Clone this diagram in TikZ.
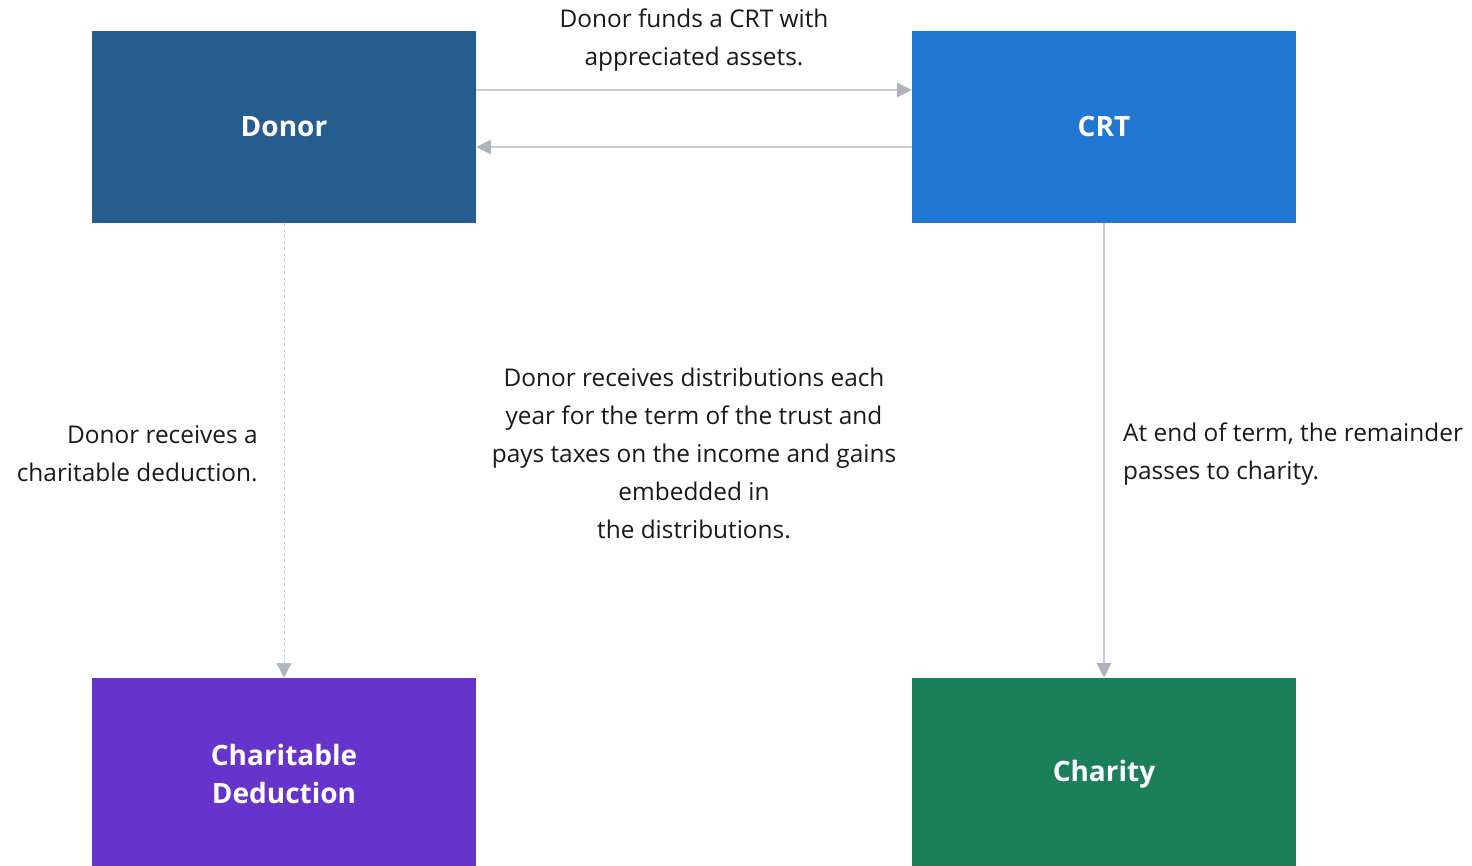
\documentclass[tikz,border=0pt]{standalone}
\usepackage{fontspec}
\setmainfont{Open Sans}
\usepackage{xcolor}
\usepackage{tikz}
\usetikzlibrary{arrows.meta}
\usetikzlibrary{positioning}
\usetikzlibrary{calc}
\definecolor{donorblue}{RGB}{38,93,143}
\definecolor{crtblue}{RGB}{33,118,210}
\definecolor{dedpurple}{RGB}{102,51,204}
\definecolor{charitygreen}{RGB}{26,127,90}
\definecolor{linegray}{RGB}{200,204,210}
\definecolor{headgray}{RGB}{174,180,190}
\tikzstyle{block} = [rectangle, fill=donorblue, text=white, align=center,
    font=\bfseries\fontsize{21}{28.5}\selectfont, inner sep=0pt,
    minimum width=288pt, minimum height=144pt]
\tikzstyle{line} = [draw=linegray, line width=0.8pt,
    -{Triangle[length=11pt,width=11pt,color=headgray]}]
\tikzstyle{note} = [font=\fontsize{18.3}{28.5}\selectfont, text=black!90, inner sep=0pt, yshift=-2.5pt]

\begin{document}
\begin{tikzpicture}[x=0.75pt,y=-0.75pt]

\useasboundingbox (0,0) rectangle (1472,866);
\clip (0,0) rectangle (1472,866);

% Define the four blocks
\node [block] (donor) at (284,127) {Donor};
\node [block, right of=donor, node distance=615pt, fill=crtblue] (crt) {CRT};
\node [block, below of=donor, node distance=485.25pt, fill=dedpurple] (deduction) {Charitable\\Deduction};
\node [block, below of=crt, node distance=485.25pt, fill=charitygreen] (charity) {Charity};

\draw[line] ([yshift=27.75pt]donor.east) -- node[note, above=16pt, align=center] {Donor funds a CRT with\\appreciated assets.} ([yshift=27.75pt]crt.west);
\draw[line] ([yshift=-15pt]crt.west) -- ([yshift=-15pt]donor.east);

\draw[line, line width=0.5pt, dash pattern=on 2.25pt off 2.25pt] (donor) -- node[note, left=19.5pt, align=right] {Donor receives a\\charitable deduction.} (deduction);
\draw[line] (crt) -- node[note, right=14pt, align=left] {At end of term, the remainder\\passes to charity.} (charity);

%\draw[line] (crt) -- (donor);
\node [note, align=center] (distrib) at ($(donor)!0.5!(charity)$) {Donor receives distributions each\\year for the term of the trust and\\pays taxes on the income and gains\\embedded in\\the distributions.};

\end{tikzpicture}
\end{document}
